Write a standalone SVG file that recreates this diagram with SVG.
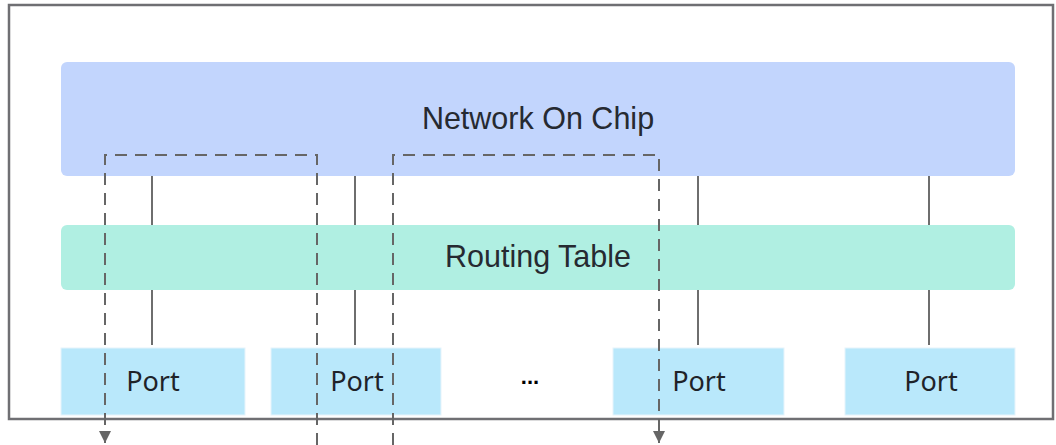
<svg xmlns="http://www.w3.org/2000/svg" width="1056" height="445" viewBox="0 0 1056 445">
  <defs>
    <style>
      .frame { fill: none; stroke: #6f6f73; stroke-width: 2.5; }
      .noc { fill: #c2d5fd; }
      .rt { fill: #b0efe2; }
      .port { fill: #b9e8fb; stroke: #e6f4fb; stroke-width: 1; }
      .big { font-family: "Liberation Sans", Arial, sans-serif; font-size: 30.5px; fill: #262a31; text-anchor: middle; }
      .pt { font-family: "Noto Sans", "Open Sans", sans-serif; font-size: 27px; fill: #1f2329; text-anchor: middle; }
      .dots { font-family: "Liberation Sans", Arial, sans-serif; font-size: 22px; font-weight: bold; fill: #000; text-anchor: middle; }
      .link { stroke: #6e6e6e; stroke-width: 2; fill: none; }
      .flow { stroke: #666; stroke-width: 2; fill: none; stroke-dasharray: 12 8; }
    </style>
    <marker id="arr" viewBox="0 0 12 12" refX="12" refY="6" markerWidth="12" markerHeight="12" markerUnits="userSpaceOnUse" orient="auto">
      <path d="M0,0 L12,6 L0,12 Z" fill="#666"/>
    </marker>
  </defs>
  <rect id="frame" class="frame" x="9" y="5" width="1044" height="414"/>
  <g id="network-on-chip">
    <rect class="noc" x="61" y="62" width="954" height="114" rx="6"/>
    <text class="big" x="538" y="129">Network On Chip</text>
  </g>
  <g id="routing-table">
    <rect class="rt" x="61" y="225" width="954" height="65" rx="6"/>
    <text class="big" x="538" y="267">Routing Table</text>
  </g>
  <g id="port-1">
    <rect class="port" x="61" y="348" width="184" height="67"/>
    <text class="pt" x="153" y="391">Port</text>
  </g>
  <g id="port-2">
    <rect class="port" x="271" y="348" width="170" height="67"/>
    <text class="pt" x="357" y="391">Port</text>
  </g>
  <g id="ellipsis">
    <text class="dots" x="530" y="384">...</text>
  </g>
  <g id="port-3">
    <rect class="port" x="613" y="348" width="171" height="67"/>
    <text class="pt" x="699" y="391">Port</text>
  </g>
  <g id="port-4">
    <rect class="port" x="845" y="348" width="170" height="67"/>
    <text class="pt" x="931" y="391">Port</text>
  </g>
  <g id="connectors">
    <line class="link" x1="152" y1="176" x2="152" y2="225"/>
    <line class="link" x1="355" y1="176" x2="355" y2="225"/>
    <line class="link" x1="698" y1="176" x2="698" y2="225"/>
    <line class="link" x1="929" y1="176" x2="929" y2="225"/>
    <line class="link" x1="152" y1="290" x2="152" y2="345"/>
    <line class="link" x1="355" y1="290" x2="355" y2="345"/>
    <line class="link" x1="698" y1="290" x2="698" y2="345"/>
    <line class="link" x1="929" y1="290" x2="929" y2="345"/>
    <path class="flow" d="M317,445 L317,155 L105,155 L105,443" marker-end="url(#arr)"/>
    <path class="flow" d="M393,445 L393,155 L659,155 L659,443" marker-end="url(#arr)"/>
  </g>
</svg>
